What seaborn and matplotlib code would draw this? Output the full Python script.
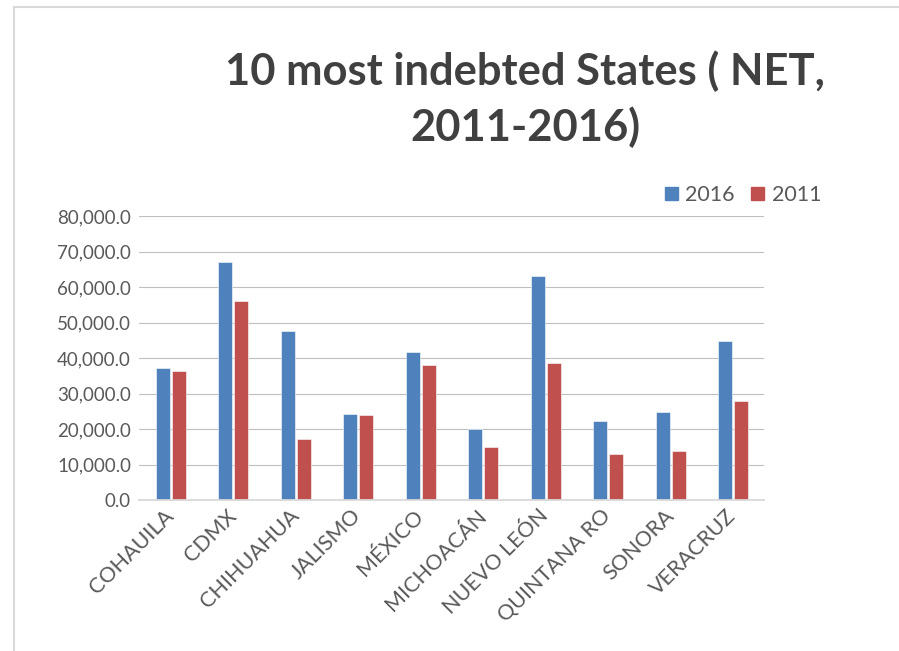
import matplotlib
matplotlib.use("Agg")
import matplotlib.pyplot as plt
import seaborn as sns
import pandas as pd
from matplotlib.ticker import FuncFormatter, MultipleLocator
from matplotlib.lines import Line2D

states = ["COHAUILA", "CDMX", "CHIHUAHUA", "JALISMO", "MÉXICO",
          "MICHOACÁN", "NUEVO LEÓN", "QUINTANA RO", "SONORA", "VERACRUZ"]
values_2016 = [37140, 67100, 47640, 24370, 41640, 20060, 63030, 22230, 24850, 44740]
values_2011 = [36380, 56200, 17250, 24090, 38160, 15000, 38550, 12940, 13870, 27860]
series = ["2016", "2011"]
colors = ["#4F81BD", "#C0504D"]

df = pd.DataFrame({
    "state": states * 2,
    "year": ["2016"] * len(states) + ["2011"] * len(states),
    "value": values_2016 + values_2011,
})

sns.set_theme(style="white")
plt.rcParams["font.family"] = ["Lato", "DejaVu Sans"]

fig = plt.figure(figsize=(8.99, 6.51), dpi=100)
ax = fig.add_axes([139.3 / 899, 1 - 500.3 / 651, (764.3 - 139.3) / 899, (500.3 - 216) / 651])

sns.barplot(data=df, x="state", y="value", hue="year", hue_order=series,
            palette=colors, order=states, width=0.51, gap=0.12,
            saturation=1, ax=ax, edgecolor="white", linewidth=0.4, legend=False)

ax.set_ylim(0, 80000)
ax.set_xlim(-0.5, len(states) - 0.5)
ax.yaxis.set_major_locator(MultipleLocator(10000))
ax.yaxis.set_major_formatter(FuncFormatter(lambda v, p: f"{v:,.1f}"))
ax.grid(axis="y", color="#BFBFBF", linewidth=0.8)
ax.set_axisbelow(True)
for s in ["top", "right", "left"]:
    ax.spines[s].set_visible(False)
ax.spines["bottom"].set_color("#D9D9D9")
ax.spines["bottom"].set_linewidth(1.3)
ax.set_xlabel("")
ax.set_ylabel("")
ax.tick_params(axis="both", length=0, colors="#595959")
ax.tick_params(axis="y", pad=6, labelsize=13.5)
ax.tick_params(axis="x", pad=9, labelsize=15.5)
for lbl in ax.get_xticklabels():
    lbl.set_rotation(45)
    lbl.set_ha("right")
    lbl.set_va("center")
    lbl.set_rotation_mode("anchor")

fig.text(525 / 899, 1 - 99 / 651, "10 most indebted States ( NET,\n2011-2016)",
         ha="center", va="center", fontsize=31.3, fontweight="bold",
         color="#404040", linespacing=1.4)

handles = [plt.Rectangle((0, 0), 1, 1, color=c) for c in colors]
fig.legend(handles, series, loc="center", bbox_to_anchor=(743 / 899, 1 - 195 / 651),
           ncol=2, frameon=False, fontsize=15.5, handlelength=0.6, handleheight=0.6,
           handletextpad=0.35, columnspacing=0.75, labelcolor="#595959")

fig.add_artist(Line2D([14 / 899, 1], [1 - 6.5 / 651, 1 - 6.5 / 651],
                      transform=fig.transFigure, color="#D9D9D9", linewidth=1.5))
fig.add_artist(Line2D([14 / 899, 14 / 899], [0, 1 - 6.5 / 651],
                      transform=fig.transFigure, color="#D9D9D9", linewidth=1.5))

fig.savefig("out.png", dpi=100)
